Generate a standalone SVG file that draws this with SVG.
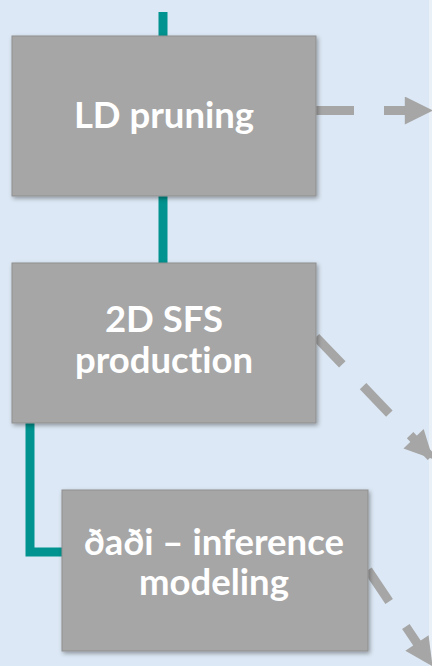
<svg xmlns="http://www.w3.org/2000/svg" width="432" height="666" viewBox="0 0 432 666">
  <defs>
    <filter id="shadow" x="-10%" y="-10%" width="125%" height="125%">
      <feDropShadow dx="1.5" dy="2" stdDeviation="2" flood-color="#000" flood-opacity="0.35"/>
    </filter>
    <marker id="arrow" viewBox="0 0 10 10" refX="9" refY="5" markerUnits="userSpaceOnUse" markerWidth="30" markerHeight="28" orient="auto">
      <path d="M0,0 L10,5 L0,10 Z" fill="#a6a6a6"/>
    </marker>
    <style>
      .box { fill: #a6a6a6; stroke: #8f8f8f; stroke-width: 1; filter: url(#shadow); }
      .label { font-family: Lato, "Liberation Sans", sans-serif; font-weight: bold; font-size: 36.5px; fill: #ffffff; text-anchor: middle; font-variant-ligatures: none; }
      .flow { fill: none; stroke: #00938f; stroke-width: 9; }
      .out { fill: none; stroke: #a6a6a6; stroke-width: 9; stroke-dasharray: 38 30; marker-end: url(#arrow); }
    </style>
  </defs>

  <rect width="432" height="666" fill="#dce8f5"/>
  <rect x="429" y="0" width="3" height="666" fill="#e9f0f8"/>

  <g id="connectors">
    <path class="flow" d="M163,12 V40"/>
    <path class="flow" d="M163,192 V267"/>
    <path class="flow" d="M30,419 V552 H66"/>
    <path class="out" d="M316,110.5 H430"/>
    <path class="out" d="M316,337 L431,457"/>
    <path class="out" d="M368,570 L431,664"/>
  </g>

  <g id="ld-pruning">
    <rect class="box" x="12" y="36" width="304" height="160"/>
    <text class="label" x="164" y="128">LD pruning</text>
  </g>

  <g id="sfs-production">
    <rect class="box" x="12" y="263" width="304" height="160"/>
    <text class="label" x="164" y="332">2D SFS</text>
    <text class="label" x="164" y="373">production</text>
  </g>

  <g id="dadi-modeling">
    <rect class="box" x="62" y="490" width="306" height="161"/>
    <text class="label" x="214" y="555">ðaði – inference</text>
    <text class="label" x="214" y="595">modeling</text>
  </g>
</svg>
